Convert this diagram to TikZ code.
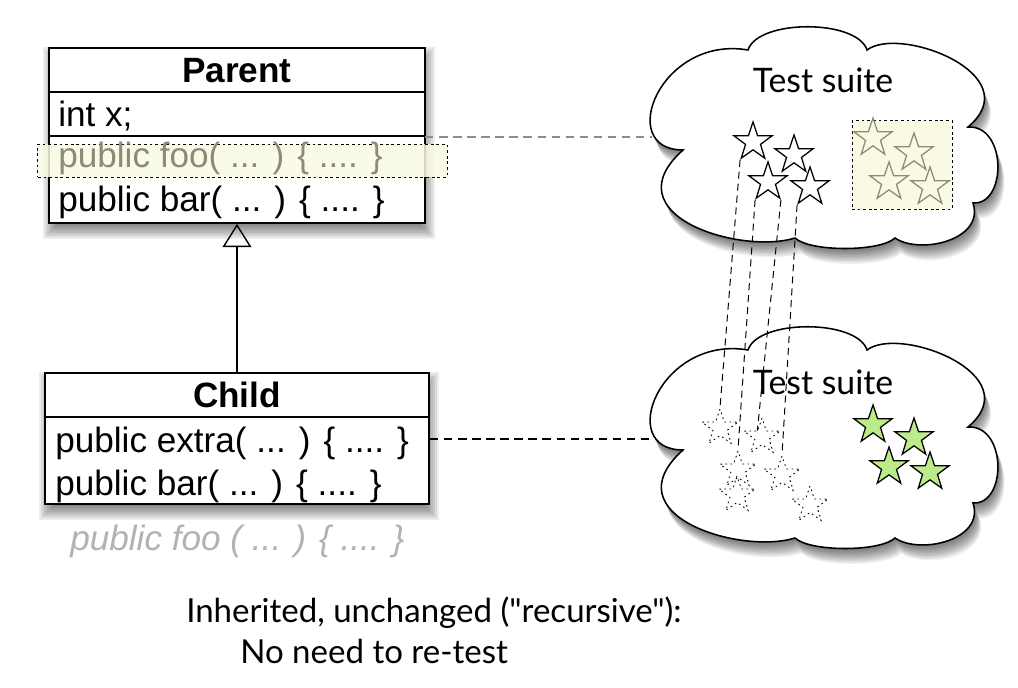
\documentclass[tikz,border=0pt]{standalone}
\usepackage{fontspec}
\setmainfont{Liberation Sans}
\newfontfamily\hum{Lato}
\usetikzlibrary{shapes.geometric,arrows.meta}
\definecolor{hlyellow}{RGB}{250,250,228}
\definecolor{olivegray}{RGB}{140,140,115}
\definecolor{lgreen}{RGB}{188,236,138}
\definecolor{lgray}{RGB}{178,178,178}
\definecolor{dgray}{RGB}{140,140,140}
\tikzset{
  pics/cloudshape/.style={code={
    \foreach \k in {1,...,11}
      \fill[black,opacity=0.06,shift={(0.6*\k,1.4*\k)}]
        (683,150) .. controls (615,150) and (660,35) .. (748,50)
        .. controls (758,19) and (857,19) .. (867,50)
        .. controls (900,25) and (1030,75) .. (968,127)
        .. controls (1007,125) and (1007,205) .. (973,203)
        .. controls (985,240) and (920,255) .. (895,238)
        .. controls (880,252) and (810,252) .. (795,238)
        .. controls (740,255) and (610,215) .. (683,150) -- cycle;
    \filldraw[fill=white,draw=black,line width=1.1pt]
        (683,150) .. controls (615,150) and (660,35) .. (748,50)
        .. controls (758,19) and (857,19) .. (867,50)
        .. controls (900,25) and (1030,75) .. (968,127)
        .. controls (1007,125) and (1007,205) .. (973,203)
        .. controls (985,240) and (920,255) .. (895,238)
        .. controls (880,252) and (810,252) .. (795,238)
        .. controls (740,255) and (610,215) .. (683,150) -- cycle;
  }}
}
\begin{document}
\begin{tikzpicture}[x=0.025cm,y=-0.025cm,
  umlbox/.style={draw,line width=1.3pt,fill=white,inner sep=0pt,anchor=center},
  umltext/.style={anchor=base west,inner sep=0pt,font=\fontsize{25}{30}\selectfont},
  umlhead/.style={anchor=base,inner sep=0pt,font=\fontsize{25}{30}\selectfont\bfseries},
  divider/.style={line width=1.1pt},
  starbase/.style={star,star points=5,star point ratio=2.55,minimum size=1cm,inner sep=0pt},
  starw/.style={starbase,draw=black,line width=0.9pt},
  starh/.style={starbase,draw=olivegray,line width=0.9pt},
  starg/.style={starbase,draw=black,fill=lgreen,line width=0.9pt},
  stard/.style={starbase,minimum size=0.95cm,draw=black,line width=0.6pt,dash pattern=on 1.2pt off 2.4pt},
  hlbox/.style={draw=black,line width=0.7pt,dash pattern=on 2pt off 2pt,fill=hlyellow,inner sep=0pt},
  link/.style={line width=0.8pt,dash pattern=on 6pt off 4pt},
  starlink/.style={line width=0.7pt,dash pattern=on 5pt off 3.5pt},
  suite/.style={font=\hum\fontsize{24}{28}\selectfont,inner sep=0pt},
  note/.style={font=\hum\fontsize{23.5}{28}\selectfont,inner sep=0pt,anchor=base west}
]
\useasboundingbox (0,0) rectangle (1018,688);
\fill[white] (0,0) rectangle (1018,688);

% box shadows
\foreach \e in {8,6,...,-6}{
  \fill[black,opacity=0.075] (51-\e,55-\e) rectangle (427+\e,231+\e);
  \fill[black,opacity=0.075] (47-\e,380-\e) rectangle (431+\e,512+\e);
}

% Parent class
\node[umlbox,minimum width=9.4cm,minimum height=4.375cm] (parent) at (237,135.5) {};
\draw[divider] (49,92) -- (425,92);
\draw[divider] (49,136) -- (425,136);
\node[umlhead] (ptitle) at (237,83) {Parent};
\node[umltext] (px) at (58,127) {int x;};
\node[umltext] (pbar) at (58,212) {public bar( ... ) \{ .... \}};

% Child class
\node[umlbox,minimum width=9.6cm,minimum height=3.275cm] (child) at (237,438.5) {};
\draw[divider] (45,417) -- (429,417);
\node[umlhead] (ctitle) at (237,407) {Child};
\node[umltext] (cextra) at (55,452) {public extra( ... ) \{ .... \}};
\node[umltext] (cbar) at (55,495) {public bar( ... ) \{ .... \}};
\node[umltext,text=lgray,font=\fontsize{25}{30}\selectfont\itshape] (cfoo) at (70,550) {public foo ( ... ) \{ .... \}};

% inheritance
\draw[line width=1pt,-{Triangle[open,length=0.58cm,width=0.72cm,line width=1pt]}] (child.north) -- (parent.south);

% clouds
\coordinate (c1w) at (652,137);
\coordinate (c2w) at (652,439);
\draw[link,draw=dgray] (425,137) -- (c1w);
\draw[link] (child.east |- c2w) -- (c2w);
\pic at (0,0) {cloudshape};
\pic at (0,300) {cloudshape};

% highlight in Parent
\node[hlbox,fill opacity=0.85,minimum width=10.225cm,minimum height=0.825cm] (phl) at (242.5,160.5) {};
\node[umltext,text=olivegray] (pfoo) at (58,168) {public foo( ... ) \{ .... \}};

\node[suite] (t1) at (823,80) {Test suite};
\node[suite] (t2) at (823,382) {Test suite};

% highlighted group in suite 1
\node[hlbox,minimum width=2.5cm,minimum height=2.2cm] (shl) at (902,165) {};
\node[starh] (h1) at (873,138) {};
\node[starh] (h2) at (914,153) {};
\node[starh] (h3) at (889,182) {};
\node[starh] (h4) at (930,187) {};

% tests of suite 1
\node[starw] (s1) at (753,142) {};
\node[starw] (s2) at (794,155) {};
\node[starw] (s3) at (768,182) {};
\node[starw] (s4) at (810,187) {};

% inherited tests in suite 2
\node[stard] (d1) at (720,428) {};
\node[stard] (d2) at (762,437) {};
\node[stard] (d3) at (738,470) {};
\node[stard] (d4) at (782,475) {};
\node[stard] (d5) at (737,495) {};
\node[stard] (d6) at (810,505) {};

% new tests in suite 2
\node[starg] (g1) at (873,425) {};
\node[starg] (g2) at (914,438) {};
\node[starg] (g3) at (889,467) {};
\node[starg] (g4) at (930,472) {};

% links between suites
\draw[starlink] (s1.outer point 3) -- (d1.outer point 1);
\draw[starlink] (s3.outer point 3) -- (d3.outer point 1);
\draw[starlink] (s3.outer point 4) -- (d2.inner point 1);
\draw[starlink] (s4.outer point 3) -- (d4.outer point 1);

% note
\node[note] (n1) at (186,622) {Inherited, unchanged ("recursive"):};
\node[note] (n2) at (240,663) {No need to re-test};
\end{tikzpicture}
\end{document}
